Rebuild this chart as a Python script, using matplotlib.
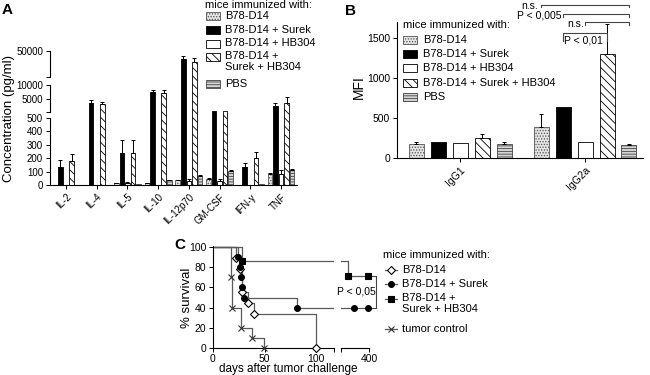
import numpy as np
import matplotlib
matplotlib.use('Agg')
import matplotlib.pyplot as plt
from matplotlib.patches import Rectangle
from matplotlib.lines import Line2D

plt.rcParams['font.family'] = ['Liberation Sans', 'DejaVu Sans']
plt.rcParams['hatch.linewidth'] = 0.6
plt.rcParams['axes.linewidth'] = 0.8

# ---------------- data ----------------
groups = ['B78-D14', 'B78-D14 + Surek', 'B78-D14 + HB304', 'B78-D14 + Surek + HB304', 'PBS']

# A: cytokines (pg/ml)
cytokines = ['IL-2', 'IL-4', 'IL-5', 'IL-10', 'IL-12p70', 'GM-CSF', 'IFN-γ', 'TNF']
cyto_d14 = [2, 2, 12, 12, 36, 48, 3, 84]
cyto_surek = [138, 3800, 236, 7500, 37000, 800, 138, 2600]
cyto_hb304 = [2, 2, 17, 3, 31, 28, 3, 84]
cyto_triple = [176, 3400, 238, 7300, 33500, 800, 205, 3800]
cyto_pbs = [2, 2, 5, 37, 69, 107, 7, 115]
err_d14 = [0, 0, 2, 2, 4, 4, 0, 4]
err_surek = [50, 800, 100, 700, 5000, 0, 28, 900]
err_hb304 = [0, 0, 8, 0, 12, 18, 0, 28]
err_triple = [58, 650, 95, 900, 5500, 0, 42, 2000]
err_pbs = [0, 0, 0, 3, 4, 4, 0, 4]

# B: antibody isotypes (MFI)
isotypes = ['IgG1', 'IgG2a']
mfi_d14 = [172, 392]
mfi_surek = [196, 633]
mfi_hb304 = [183, 204]
mfi_triple = [246, 1296]
mfi_pbs = [171, 160]
mfi_err_d14 = [33, 160]
mfi_err_surek = [0, 0]
mfi_err_hb304 = [0, 0]
mfi_err_triple = [54, 375]
mfi_err_pbs = [25, 10]

# C: survival (day of event, % surviving after it), censored mice
d14_days = [22, 26, 28, 34, 40, 100]
d14_surv = [88.9, 77.8, 55.6, 44.4, 33.3, 0]
surek_days = [24, 26, 27, 28, 30, 81]
surek_surv = [90, 80, 70, 60, 50, 40]
surek_cens = [347, 398]
triple_days = [28, 326]
triple_surv = [85.7, 71.4]
triple_cens = [395]
ctrl_days = [18, 19, 27, 38, 49]
ctrl_surv = [70, 40, 20, 10, 0]

# ---------------- figure ----------------
W, H = 650, 375
fig = plt.figure(figsize=(6.5, 3.75), dpi=100)


def fx(x):
    return x / W


def fy(y):
    return 1 - y / H


styles = [
    dict(facecolor='#e4e4e4', edgecolor='#555555', hatch='......'),
    dict(facecolor='black', edgecolor='black'),
    dict(facecolor='white', edgecolor='black'),
    dict(facecolor='white', edgecolor='black', hatch='\\\\\\\\'),
    dict(facecolor='#d4d4d4', edgecolor='#444444', hatch='------'),
]


def legend_box(x, y, st):
    r = Rectangle((fx(x), fy(y + 4)), 14 / W, 8 / H, transform=fig.transFigure,
                  linewidth=0.6, **st)
    fig.add_artist(r)


def draw_bars(ax, xbase, vals, errs, width, step):
    offs = (np.arange(5) - 2) * step
    for i in range(5):
        xs = np.asarray(xbase) + offs[i]
        v = np.asarray(vals[i], float)
        e = np.asarray(errs[i], float)
        ax.bar(xs, v, width=width, linewidth=0.6, **styles[i])
        m = e > 0
        if m.any():
            ax.errorbar(xs[m], v[m], yerr=[np.zeros(m.sum()), e[m]], fmt='none',
                        ecolor='black', elinewidth=0.7, capsize=1.3, capthick=0.7)


# ---- A ----
axA = fig.add_axes([fx(50), fy(185), 247 / W, 134 / H])
brk_val = [0, 500, 500.001, 10000, 10000.001, 50000]
brk_pos = [0, 67, 73, 100, 108, 134]
axA.set_yscale('function', functions=(lambda v: np.interp(v, brk_val, brk_pos),
                                      lambda u: np.interp(u, brk_pos, brk_val)))
draw_bars(axA, np.arange(len(cytokines)),
          [cyto_d14, cyto_surek, cyto_hb304, cyto_triple, cyto_pbs],
          [err_d14, err_surek, err_hb304, err_triple, err_pbs], 0.15, 0.18)
axA.set_ylim(0, 50000)
axA.set_xlim(-0.52, 7.52)
for s in ['left', 'top', 'right']:
    axA.spines[s].set_visible(False)
yax = axA.get_yaxis_transform()
for lo, hi in [(0, 500), (500.001, 10000), (10000.001, 50000)]:
    axA.plot([0, 0], [lo, hi], color='black', lw=0.8, transform=yax, clip_on=False)
axA.set_yticks([0, 100, 200, 300, 400, 500, 5000, 10000, 50000])
axA.set_yticklabels(['0', '100', '200', '300', '400', '500', '5000', '10000', '50000'], fontsize=7)
axA.set_yticks([500.001, 10000.001], minor=True)
axA.tick_params(axis='y', which='both', length=3, width=0.7, pad=2)
axA.set_xticks(np.arange(len(cytokines)))
axA.set_xticklabels(cytokines, rotation=45, ha='right', rotation_mode='anchor', fontsize=7)
axA.tick_params(axis='x', length=3, width=0.7, pad=2)

fig.text(fx(9), fy(118), 'Concentration (pg/ml)', rotation=90, ha='center', va='center', fontsize=9.5)
fig.text(fx(2), fy(10), 'A', fontsize=11, fontweight='bold', va='center')

fig.text(fx(205), fy(5), 'mice immunized with:', fontsize=8, va='center')
legA_y = [16, 30, 43.5, 57, 84]
legA_lab = ['B78-D14', 'B78-D14 + Surek', 'B78-D14 + HB304', 'B78-D14 +\nSurek + HB304', 'PBS']
for i in range(5):
    legend_box(206, legA_y[i], styles[i])
    if '\n' in legA_lab[i]:
        fig.text(fx(225), fy(legA_y[i] - 6), legA_lab[i], fontsize=8, va='top', linespacing=1.15)
    else:
        fig.text(fx(225), fy(legA_y[i]), legA_lab[i], fontsize=8, va='center')

# ---- B ----
axB = fig.add_axes([fx(397), fy(158), 246 / W, 136 / H])
draw_bars(axB, np.arange(len(isotypes)),
          [mfi_d14, mfi_surek, mfi_hb304, mfi_triple, mfi_pbs],
          [mfi_err_d14, mfi_err_surek, mfi_err_hb304, mfi_err_triple, mfi_err_pbs], 0.12, 0.176)
axB.set_ylim(0, 1700)
axB.set_xlim(-0.504, 1.464)
for s in ['top', 'right']:
    axB.spines[s].set_visible(False)
axB.set_yticks([0, 500, 1000, 1500])
axB.tick_params(axis='y', labelsize=7.5, length=3, width=0.7, pad=2)
axB.set_xticks(np.arange(len(isotypes)))
axB.set_xticklabels(isotypes, rotation=45, ha='right', rotation_mode='anchor', fontsize=7.5)
axB.tick_params(axis='x', length=3, width=0.7, pad=2)
fig.text(fx(359), fy(87), 'MFI', rotation=90, ha='center', va='center', fontsize=10)
fig.text(fx(345), fy(11), 'B', fontsize=11, fontweight='bold', va='center')


def bracket(ax, x0, x1, y, drop, label, tx, ty, ha):
    ax.plot([x0, x0, x1, x1], [y - drop, y, y, y - drop], color='#444444', lw=0.8, clip_on=False)
    ax.text(tx, ty, label, fontsize=7.5, ha=ha, va='center')


xb = 1 + (np.arange(5) - 2) * 0.176
bracket(axB, xb[1], xb[3], 1558, 100, 'P < 0,01', 0.99, 1470, 'center')
bracket(axB, xb[2], xb[4], 1704, 40, 'n.s.', 0.99, 1675, 'right')
bracket(axB, xb[1], xb[4], 1800, 35, 'P < 0,005', 0.81, 1780, 'right')
bracket(axB, xb[0], xb[4], 1912, 30, 'n.s.', 0.625, 1900, 'right')

fig.text(fx(403), fy(25), 'mice immunized with:', fontsize=8, va='center')
legB_y = [40, 54.3, 68.3, 82.7, 96.7]
for i in range(5):
    legend_box(403, legB_y[i], styles[i])
    fig.text(fx(423), fy(legB_y[i]), groups[i], fontsize=8, va='center')

# ---- C ----
axC1 = fig.add_axes([fx(212.7), fy(348), (334 - 212.7) / W, 102 / H])
axC2 = fig.add_axes([fx(341), fy(348), 28 / W, 102 / H])
axC1.set_xlim(0, 117)
axC2.set_xlim(300, 400)
lc = '#5a5a5a'
curves = [
    (d14_days, d14_surv, [], 'D', 'white', 4),
    (surek_days, surek_surv, surek_cens, 'o', 'black', 4.2),
    (triple_days, triple_surv, triple_cens, 's', 'black', 4),
    (ctrl_days, ctrl_surv, [], 'x', '#333333', 3.8),
]
for ax in (axC1, axC2):
    lo, hi = ax.get_xlim()
    for days, surv, cens, mk, mfc, ms in curves:
        end = max(days + cens)
        xs = [0] + days + [end]
        ys = [100] + surv + [surv[-1]]
        ax.step(xs, ys, where='post', color=lc, lw=0.9)
        pts_x = np.array(days + cens, float)
        pts_y = np.array(surv + [surv[-1]] * len(cens), float)
        keep = (pts_x >= lo) & (pts_x <= hi)
        ax.plot(pts_x[keep], pts_y[keep], ls='none', marker=mk, ms=ms, mfc=mfc,
                mec='black' if mk != 'x' else '#333333', mew=0.8, clip_on=False, zorder=5)
    ax.set_xlim(lo, hi)
    ax.set_ylim(0, 101)
    for s in ['top', 'right']:
        ax.spines[s].set_visible(False)
    ax.tick_params(labelsize=7.5, length=3, width=0.7, pad=1.5)

axC1.set_xticks([0, 50, 100])
axC1.set_xticks([117], minor=True)
axC1.set_yticks([0, 20, 40, 60, 80, 100])
axC1.tick_params(which='minor', length=3, width=0.7)
axC2.set_xticks([400])
axC2.set_xticks([300], minor=True)
axC2.tick_params(which='minor', length=3, width=0.7)
axC2.spines['left'].set_visible(False)
axC2.set_yticks([])

# significance bracket at the right end of C
axC2.plot([412, 425, 425, 412], [triple_surv[-1], triple_surv[-1], surek_surv[-1], surek_surv[-1]],
          color='#444444', lw=0.8, clip_on=False)
axC2.text(354, 55.5, 'P < 0,05', fontsize=7.5, ha='center', va='center', clip_on=False)

fig.text(fx(187), fy(298), '% survival', rotation=90, ha='center', va='center', fontsize=9.5)
fig.text(fx(288), fy(369), 'days after tumor challenge', ha='center', va='center', fontsize=8.5)
fig.text(fx(174), fy(245.5), 'C', fontsize=11, fontweight='bold', va='center')

fig.text(fx(383), fy(255), 'mice immunized with:', fontsize=8, va='center')
legC_y = [270, 284, 299.3, 329.3]
legC_lab = ['B78-D14', 'B78-D14 + Surek', 'B78-D14 +\nSurek + HB304', 'tumor control']
for (days, surv, cens, mk, mfc, ms), yy, lab in zip(curves, legC_y, legC_lab):
    fig.add_artist(Line2D([fx(385), fx(397)], [fy(yy), fy(yy)], color=lc, lw=0.9,
                          transform=fig.transFigure))
    fig.add_artist(Line2D([fx(391)], [fy(yy)], marker=mk, ms=ms, mfc=mfc,
                          mec='black' if mk != 'x' else '#333333', mew=0.8,
                          transform=fig.transFigure))
    if '\n' in lab:
        fig.text(fx(402), fy(yy - 6), lab, fontsize=8, va='top', linespacing=1.15)
    else:
        fig.text(fx(402), fy(yy), lab, fontsize=8, va='center')

fig.savefig('out.png', dpi=100)
